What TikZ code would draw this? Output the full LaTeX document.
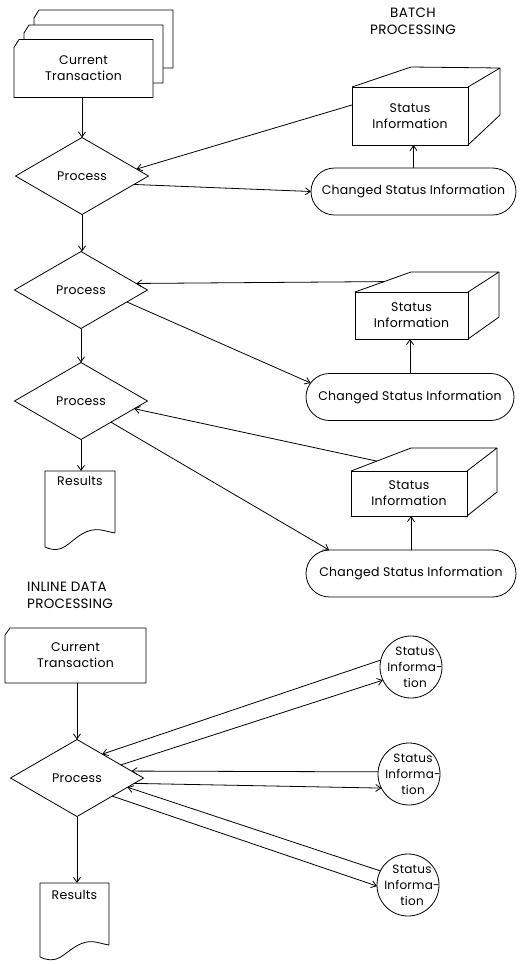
\documentclass[tikz,border=0pt]{standalone}
\usepackage{fontspec}
\setmainfont{Poppins}[LetterSpace=2]
\usetikzlibrary{shapes.geometric,shapes.misc,arrows.meta,calc}
\begin{document}
\begin{tikzpicture}[x=1pt,y=-1pt,
  every node/.style={font=\fontsize{12.5}{16}\selectfont},
  line/.style={line width=0.8pt},
  arr/.style={line width=0.8pt,-{Straight Barb[length=5pt,width=7pt]}},
  dia/.style={diamond,draw,line width=0.8pt,minimum width=133pt,minimum height=77pt,inner sep=0pt,outer sep=0pt},
  frontface/.style={rectangle,draw,line width=0.8pt,fill=white,inner sep=0pt,outer sep=0pt,align=center},
  csi/.style={rounded rectangle,draw,line width=0.8pt,inner sep=0pt,outer sep=0pt,minimum height=47pt},
  docbox/.style={rectangle,inner sep=0pt,outer sep=0pt},
  stat/.style={circle,draw,line width=0.8pt,minimum size=62pt,inner sep=0pt,outer sep=0pt},
  lbl/.style={align=center,inner sep=0pt},
  head/.style={font=\fontsize{13.5}{17}\selectfont}
]
\useasboundingbox (0,0) rectangle (528,964);

% ---------- headings ----------
\node[lbl,head] (hb) at (413,21) {BATCH\\PROCESSING};
\node[lbl,head,align=left,anchor=west] (hi) at (27,595) {INLINE DATA\\PROCESSING};

% ---------- stacked cards (batch) ----------
\node[docbox,minimum width=139pt,minimum height=58pt] (cb) at (103.5,39) {};
\node[docbox,minimum width=139pt,minimum height=58pt] (cm) at (93.5,54) {};
\node[docbox,minimum width=139pt,minimum height=58pt,align=center] (ct1) at (83.5,68.5) {};
\foreach \c in {cb,cm,ct1}{
  \draw[line,fill=white] ($(\c.north west)+(5,0)$) -- (\c.north east) -- (\c.south east)
     -- (\c.south west) -- ($(\c.north west)+(0,8)$) -- cycle;
}
\node[lbl] (ct1t) at (ct1) {Current\\Transaction};

% ---------- diamonds (batch) ----------
\node[dia] (d1) at (82,176) {Process};
\node[dia] (d2) at (81,290) {Process};
\node[dia] (d3) at (81,401) {Process};

% ---------- results (batch) ----------
\node[docbox,minimum width=70pt,minimum height=62pt] (r1) at (80,502) {};
\draw[line] (r1.south east) -- (r1.north east) -- (r1.north west) -- ($(r1.south west)+(0,14)$)
  .. controls +(18,8) and +(-14,8) .. ($(r1.south)+(2,1)$)
  .. controls +(14,-8) and +(-12,-2) .. (r1.south east);
\node[lbl,anchor=north] (r1t) at ($(r1.north)+(0,5)$) {Results};

% ---------- status information boxes ----------
\node[frontface,minimum width=116pt,minimum height=58pt] (si1) at (410,116) {Status\\Information};
\coordinate (si1bl) at (411,67);
\coordinate (si1br) at (500,68);
\coordinate (si1rb) at (500,115);
\draw[line,line join=round] (si1.north west) -- (si1bl) -- (si1br) -- (si1.north east);
\draw[line,line join=round] (si1br) -- (si1rb) -- (si1.south east);

\node[frontface,minimum width=113pt,minimum height=47pt] (si2) at (411.5,315.5) {Status\\Information};
\coordinate (si2bl) at (411,272);
\coordinate (si2br) at (499,272);
\coordinate (si2rb) at (499,317);
\draw[line,line join=round] (si2.north west) -- (si2bl) -- (si2br) -- (si2.north east);
\draw[line,line join=round] (si2br) -- (si2rb) -- (si2.south east);

\node[frontface,minimum width=116pt,minimum height=45pt] (si3) at (409,493.5) {Status\\Information};
\coordinate (si3bl) at (411,448);
\coordinate (si3br) at (497,448);
\coordinate (si3rb) at (497,492);
\draw[line,line join=round] (si3.north west) -- (si3bl) -- (si3br) -- (si3.north east);
\draw[line,line join=round] (si3br) -- (si3rb) -- (si3.south east);

% ---------- changed status information ----------
\node[csi,minimum width=205pt] (csi1) at (413.5,191.5) {Changed Status Information};
\node[csi,minimum width=208pt] (csi2) at (410,397) {Changed Status Information};
\node[csi,minimum width=210pt] (csi3) at (411,573.5) {Changed Status Information};

% ---------- batch connectors ----------
\draw[arr] (d1.north |- ct1.south) -- (d1.north);
\draw[arr] (d1.south) -- (d1.south |- d2.north);
\draw[arr] (d2.south) -- (d3.north);
\draw[arr] (d3.south) -- (d3.south |- r1.north);

\draw[arr] ($(si1.north west)!0.31!(si1.south west)$) -- ($(d1.north)!0.82!(d1.east)$);
\draw[arr] ($(d1.east)!0.22!(d1.south)$) -- (csi1.west);
\draw[arr] (csi1.north) -- (csi1.north |- si1.south);

\draw[arr] ($(si2.north west)!0.52!(si2bl)$) -- ($(d2.north)!0.83!(d2.east)$);
\draw[arr] ($(d2.east)!0.31!(d2.south)$) -- (csi2.172);
\draw[arr] (csi2.north) -- (csi2.north |- si2.south);

\draw[arr] ($(si3.north west)!0.43!(si3bl)$) -- ($(d3.east)!0.2!(d3.south)$);
\draw[arr] ($(d3.east)!0.55!(d3.south)$) -- (csi3.164);
\draw[arr] (csi3.north) -- (csi3.north |- si3.south);

% ---------- inline section ----------
\node[docbox,minimum width=141pt,minimum height=55pt] (ct2) at (75.5,655.5) {};
\draw[line] ($(ct2.north west)+(5,0)$) -- (ct2.north east) -- (ct2.south east)
   -- (ct2.south west) -- ($(ct2.north west)+(0,7)$) -- cycle;
\node[lbl] (ct2t) at (ct2) {Current\\Transaction};

\node[dia] (d4) at (77,778) {Process};

\node[docbox,minimum width=69pt,minimum height=62pt] (r2) at (74.5,914) {};
\draw[line] (r2.south east) -- (r2.north east) -- (r2.north west) -- ($(r2.south west)+(0,12)$)
  .. controls +(18,8) and +(-14,8) .. ($(r2.south)+(2,1)$)
  .. controls +(14,-8) and +(-12,-2) .. (r2.south east);
\node[lbl,anchor=north] (r2t) at ($(r2.north)+(0,7)$) {Results};

\draw[arr] (d4.north |- ct2.south) -- (d4.north);
\draw[arr] (d4.south) -- (d4.south |- r2.north);

\node[stat] (c1) at (411,667) {};
\node[stat] (c2) at (409,774) {};
\node[stat] (c3) at (408,885) {};
\foreach \c in {c1,c2,c3}{
  \node[lbl,font=\fontsize{12}{16}\selectfont] (\c t) at ($(\c)+(4,0)$) {Status\\Informa-\\tion};
}

\draw[arr] (c1.167) -- ($(d4.north)!0.38!(d4.east)$);
\draw[arr] ($(d4.north)!0.66!(d4.east)$) -- (c1.205);
\draw[arr] (c2.176) -- ($(d4.north)!0.82!(d4.east)$);
\draw[arr] ($(d4.east)!0.14!(d4.south)$) -- (c2.207);
\draw[arr] (c3.153) -- ($(d4.east)!0.24!(d4.south)$);
\draw[arr] ($(d4.east)!0.47!(d4.south)$) -- (c3.182);
\end{tikzpicture}
\end{document}
